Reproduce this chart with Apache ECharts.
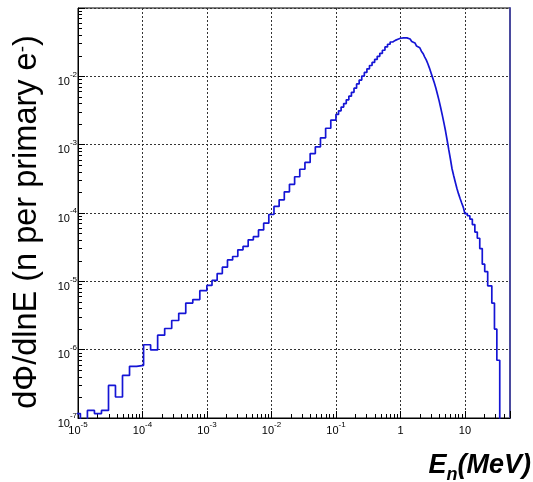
<!DOCTYPE html>
<html><head><meta charset="utf-8">
<script src="https://cdn.jsdelivr.net/npm/echarts@6/dist/echarts.min.js"></script>
<style>html,body{margin:0;padding:0;background:#fff}#c{width:533px;height:482px}</style>
</head><body><div id="c"></div>
<script>
// ---- Data: histogram bins (lower edges in log10(E/MeV)) and dPhi/dlnE values ----
const binLowEdgesLog10 = [
  // coarse bins, 1e-5 .. 1e-3 MeV
  -5.072, -4.963, -4.854, -4.745, -4.636, -4.527, -4.419, -4.310, -4.201, -4.092,
  -3.983, -3.874, -3.765, -3.656, -3.547, -3.438, -3.329, -3.220, -3.111,
  // medium bins, 1e-3 .. 0.1 MeV
  -3.002, -2.922, -2.842, -2.762, -2.682, -2.602, -2.522, -2.441, -2.361, -2.281,
  -2.201, -2.121, -2.041, -1.961, -1.881, -1.801, -1.721, -1.641, -1.561, -1.481,
  -1.400, -1.320, -1.240, -1.160, -1.080,
  // fine bins, 0.1 .. 1 MeV
  -1.00, -0.96, -0.92, -0.88, -0.84, -0.80, -0.76, -0.72, -0.68, -0.64,
  -0.60, -0.56, -0.52, -0.48, -0.44, -0.40, -0.36, -0.32, -0.28, -0.24,
  -0.20, -0.16, -0.12, -0.08, -0.04,
  // finer bins, 1 .. 10 MeV
  0.000, 0.025, 0.050, 0.075, 0.100, 0.125, 0.150, 0.175, 0.200, 0.225,
  0.250, 0.275, 0.300, 0.325, 0.350, 0.375, 0.400, 0.425, 0.450, 0.475,
  0.500, 0.525, 0.550, 0.575, 0.600, 0.625, 0.650, 0.675, 0.700, 0.725,
  0.750, 0.775, 0.800, 0.825, 0.850, 0.875, 0.900, 0.925, 0.950, 0.975,
  // 10 .. 20 MeV
  1.000, 1.038, 1.077, 1.115, 1.154, 1.192, 1.230, 1.269,
  // tail bins
  1.307, 1.353, 1.417, 1.458, 1.495,
  // empty bin after the cut-off
  1.540
];
const lastUpperEdgeLog10 = 1.75;

const fluxPerLnE = [
  1.16e-7, 0, 1.29e-7, 1.16e-7, 1.29e-7, 3.0e-7, 2.03e-7, 4.2e-7, 5.7e-7, 5.9e-7,
  1.18e-6, 9.9e-7, 1.63e-6, 2.04e-6, 2.67e-6, 3.4e-6, 4.8e-6, 5.4e-6, 7.3e-6,

  8.7e-6, 1.03e-5, 1.3e-5, 1.61e-5, 2.06e-5, 2.31e-5, 2.89e-5, 3.24e-5, 4.05e-5, 4.5e-5,
  5.66e-5, 7.1e-5, 9.5e-5, 1.25e-4, 1.56e-4, 2.04e-4, 2.63e-4, 3.39e-4, 4.37e-4, 5.5e-4,
  7.4e-4, 9.3e-4, 1.26e-3, 1.74e-3, 2.29e-3,

  2.77e-3, 3.13e-3, 3.55e-3, 4.00e-3, 4.53e-3, 5.12e-3, 5.83e-3, 6.71e-3, 7.73e-3, 8.83e-3,
  1.01e-2, 1.14e-2, 1.29e-2, 1.44e-2, 1.60e-2, 1.77e-2, 1.96e-2, 2.17e-2, 2.41e-2, 2.69e-2,
  2.95e-2, 3.18e-2, 3.36e-2, 3.49e-2, 3.61e-2,

  3.66e-2, 3.66e-2, 3.67e-2, 3.66e-2, 3.61e-2, 3.52e-2, 3.40e-2, 3.24e-2, 3.08e-2, 2.94e-2,
  2.77e-2, 2.62e-2, 2.48e-2, 2.33e-2, 2.16e-2, 1.93e-2, 1.74e-2, 1.53e-2, 1.32e-2, 1.12e-2,
  9.49e-3, 8.04e-3, 6.71e-3, 5.42e-3, 4.37e-3, 3.44e-3, 2.68e-3, 2.07e-3, 1.57e-3, 1.15e-3,
  8.39e-4, 6.17e-4, 4.44e-4, 3.53e-4, 2.85e-4, 2.30e-4, 1.92e-4, 1.63e-4, 1.40e-4, 1.21e-4,

  9.77e-5, 9.12e-5, 8.13e-5, 6.76e-5, 5.25e-5, 4.27e-5, 3.02e-5, 1.78e-5,

  1.39e-5, 8.6e-6, 4.8e-6, 2.0e-6, 7.0e-7,
  0
];

// ---- Axes ----
const xMin = 1e-5, xMax = 50;
const yMin = 1e-7, yMax = 1e-1;
const xTickValues = [1e-5, 1e-4, 1e-3, 1e-2, 1e-1, 1, 10];
const xTickLabels = ['{b|10}{s|-5}', '{b|10}{s|-4}', '{b|10}{s|-3}', '{b|10}{s|-2}', '{b|10}{s|-1}', '{b|1}', '{b|10}'];
const yTickValues = [1e-7, 1e-6, 1e-5, 1e-4, 1e-3, 1e-2];
const yTickLabels = ['{b|10}{s|-7}', '{b|10}{s|-6}', '{b|10}{s|-5}', '{b|10}{s|-4}', '{b|10}{s|-3}', '{b|10}{s|-2}'];
const yTitle = '{t|dΦ/dlnE (n per primary e}{s|-}{t|)}';
const xTitle = '{E|E}{n|n}{u|(MeV)}';

const FLOOR = 1e-12; // empty bins drawn below the axis
const histData = binLowEdgesLog10.map((e, i) => [Math.pow(10, e), fluxPerLnE[i] > 0 ? fluxPerLnE[i] : FLOOR]);
histData.push([Math.pow(10, lastUpperEdgeLog10), FLOOR]);

function minorTicks(p0, p1, lo, hi) {
  const out = [];
  for (let p = p0; p <= p1; p++) for (let m = 2; m <= 9; m++) {
    const v = m * Math.pow(10, p);
    if (v > lo && v < hi) out.push(v);
  }
  return out;
}
function pick(values, labels) {
  return function (v) {
    const i = values.findIndex(t => Math.abs(Math.log10(v) - Math.log10(t)) < 1e-6);
    return i < 0 ? '' : labels[i];
  };
}
const FONT = 'Liberation Sans, Arial, Helvetica, sans-serif';
const gridLine = { show: true, showMinLine: false, showMaxLine: false, lineStyle: { color: '#333', type: [2, 2], width: 1 } };

const chart = echarts.init(document.getElementById('c'), null, { renderer: 'canvas' });
chart.setOption({
  animation: false,
  backgroundColor: '#fff',
  grid: { left: 78, right: 23, top: 8, bottom: 64, show: true, borderColor: '#000', borderWidth: 1, backgroundColor: 'transparent' },
  xAxis: [
    {
      type: 'log', logBase: 10, min: xMin, max: xMax, position: 'bottom',
      axisLine: { show: true, lineStyle: { color: '#000', width: 1 } },
      axisTick: { show: true, inside: true, length: 7, lineStyle: { color: '#000' } },
      axisLabel: {
        show: true, margin: 3, formatter: pick(xTickValues, xTickLabels), showMinLabel: true, showMaxLabel: true,
        rich: {
          b: { fontSize: 11, fontFamily: FONT, color: '#000', lineHeight: 12, padding: [4, 0, 0, 0], verticalAlign: 'top' },
          s: { fontSize: 8, fontFamily: FONT, color: '#000', lineHeight: 9, verticalAlign: 'top' }
        }
      },
      splitLine: gridLine
    },
    {
      type: 'log', logBase: 10, min: xMin, max: xMax, position: 'bottom',
      axisLine: { show: false },
      axisTick: { show: true, inside: true, length: 4, customValues: minorTicks(-5, 1, xMin, xMax), lineStyle: { color: '#000' } },
      axisLabel: { show: false },
      splitLine: { show: false }
    }
  ],
  yAxis: [
    {
      type: 'log', logBase: 10, min: yMin, max: yMax, position: 'left',
      axisLine: { show: true, lineStyle: { color: '#000', width: 1 } },
      axisTick: { show: true, inside: true, length: 7, lineStyle: { color: '#000' } },
      axisLabel: {
        show: true, margin: 1, formatter: pick(yTickValues, yTickLabels), showMinLabel: true,
        rich: {
          b: { fontSize: 11, fontFamily: FONT, color: '#000', lineHeight: 12, padding: [6, 0, 6, 0], verticalAlign: 'top' },
          s: { fontSize: 8, fontFamily: FONT, color: '#000', lineHeight: 9, verticalAlign: 'top' }
        }
      },
      splitLine: gridLine
    },
    {
      type: 'log', logBase: 10, min: yMin, max: yMax, position: 'left',
      axisLine: { show: false },
      axisTick: { show: true, inside: true, length: 4, customValues: minorTicks(-7, -2, yMin, yMax), lineStyle: { color: '#000' } },
      axisLabel: { show: false },
      splitLine: { show: false }
    },
    {
      type: 'log', logBase: 10, min: yMin, max: yMax, position: 'right',
      axisLine: { show: true, lineStyle: { color: '#4a4a9e', width: 2 } },
      axisTick: { show: false }, axisLabel: { show: false }, splitLine: { show: false }
    }
  ],
  series: [{
    type: 'line', xAxisIndex: 0, yAxisIndex: 0,
    step: 'end', showSymbol: false, symbol: 'none', clip: true,
    lineStyle: { color: '#1515d5', width: 1.7 },
    data: histData
  }],
  graphic: [
    {
      type: 'text', x: 28, y: 222, rotation: Math.PI / 2,
      style: {
        text: yTitle, align: 'center', verticalAlign: 'middle',
        rich: {
          t: { fontSize: 32.5, fontFamily: FONT, fill: '#000', lineHeight: 35, verticalAlign: 'top' },
          s: { fontSize: 19, fontFamily: FONT, fill: '#000', lineHeight: 19, padding: [3, 0, 0, 0], verticalAlign: 'top' }
        }
      }
    },
    {
      type: 'text', x: 531, y: 467,
      style: {
        text: xTitle, align: 'right', verticalAlign: 'middle',
        rich: {
          E: { fontSize: 27, fontFamily: FONT, fontWeight: 'bold', fontStyle: 'italic', fill: '#000', lineHeight: 30, verticalAlign: 'top' },
          n: { fontSize: 18, fontFamily: FONT, fontWeight: 'bold', fontStyle: 'italic', fill: '#000', lineHeight: 18, padding: [14, 0, 0, 0], verticalAlign: 'top' },
          u: { fontSize: 27, fontFamily: FONT, fontWeight: 'bold', fontStyle: 'italic', fill: '#000', lineHeight: 30, verticalAlign: 'top' }
        }
      }
    }
  ]
});
</script>
</body></html>
